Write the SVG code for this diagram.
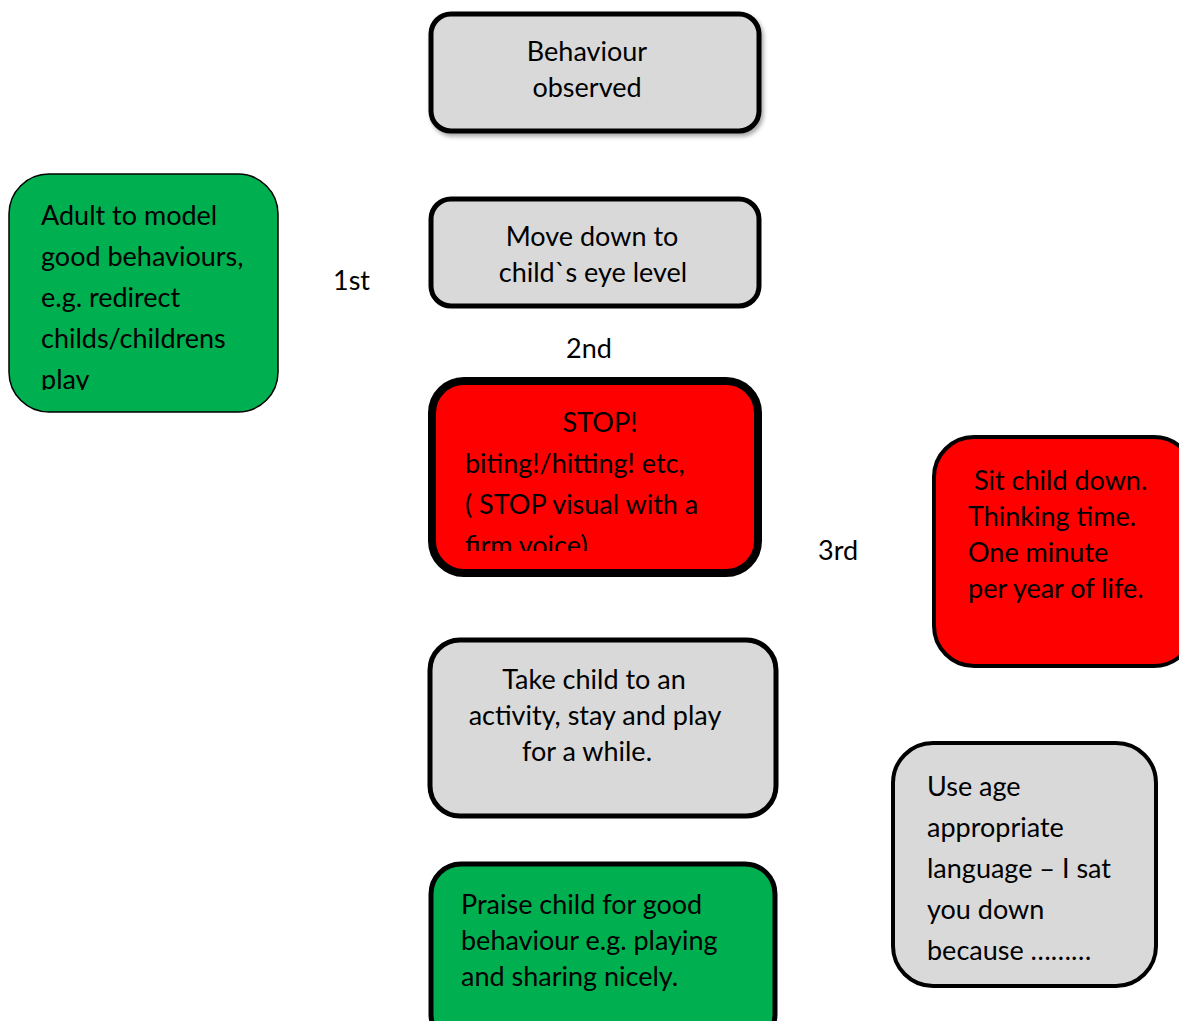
<svg xmlns="http://www.w3.org/2000/svg" width="1179" height="1021" viewBox="0 0 1179 1021">
<defs>
<style>
text{font-family:Lato,"Liberation Sans",sans-serif;font-size:27px;fill:#000}
.c{text-anchor:middle}
.grey{fill:#d9d9d9;stroke:#000}
.green{fill:#00b050;stroke:#000}
.red{fill:#ff0000;stroke:#000}
</style>
<filter id="sh" x="-10%" y="-10%" width="130%" height="130%">
<feDropShadow dx="2" dy="3" stdDeviation="2" flood-color="#000" flood-opacity="0.35"/>
</filter>
<clipPath id="clipGreen"><rect x="0" y="170" width="300" height="220"/></clipPath>
<clipPath id="clipRed"><rect x="430" y="380" width="330" height="171"/></clipPath>
</defs>
<rect width="1179" height="1021" fill="#fff"/>
<g id="connectors"></g>
<g id="n-observed">
<rect class="grey" x="431" y="14" width="328" height="117" rx="20" stroke-width="5" filter="url(#sh)"/>
<text class="c" x="587" y="61">Behaviour</text>
<text class="c" x="587" y="97">observed</text>
</g>
<g id="n-move">
<rect class="grey" x="431" y="199" width="328" height="107" rx="20" stroke-width="5"/>
<text class="c" x="592" y="246">Move down to</text>
<text class="c" x="593" y="282">child`s eye level</text>
</g>
<g id="n-adult">
<rect class="green" x="9" y="174" width="269" height="238" rx="40" stroke-width="1.5"/>
<g clip-path="url(#clipGreen)">
<text x="41" y="225">Adult to model</text>
<text x="41" y="266">good behaviours,</text>
<text x="41" y="307">e.g. redirect</text>
<text x="41" y="348">childs/childrens</text>
<text x="41" y="389">play</text>
</g>
</g>
<text id="l-1st" x="333" y="290">1st</text>
<text id="l-2nd" x="566" y="358">2nd</text>
<g id="n-stop">
<rect class="red" x="432" y="381" width="326" height="192" rx="32" stroke-width="8"/>
<g clip-path="url(#clipRed)">
<text class="c" x="600" y="432">STOP!</text>
<text x="465" y="473">biting!/hitting! etc,</text>
<text x="465" y="514">( STOP visual with a</text>
<text x="465" y="555">firm voice)</text>
</g>
</g>
<text id="l-3rd" x="818" y="560">3rd</text>
<g id="n-sit">
<rect class="red" x="934" y="437" width="260" height="229" rx="40" stroke-width="4"/>
<text x="974" y="490">Sit child down.</text>
<text x="968" y="526">Thinking time.</text>
<text x="968" y="562">One minute</text>
<text x="968" y="598">per year of life.</text>
</g>
<g id="n-take">
<rect class="grey" x="430" y="640" width="346" height="176" rx="30" stroke-width="5"/>
<text class="c" x="594" y="689">Take child to an</text>
<text class="c" x="595" y="725">activity, stay and play</text>
<text class="c" x="587" y="761">for a while.</text>
</g>
<g id="n-use">
<rect class="grey" x="893" y="743" width="263" height="243" rx="40" stroke-width="4"/>
<text x="927" y="796">Use age</text>
<text x="927" y="837">appropriate</text>
<text x="927" y="878">language – I sat</text>
<text x="927" y="919">you down</text>
<text x="927" y="960">because ………</text>
</g>
<g id="n-praise">
<rect class="green" x="431" y="864" width="344" height="180" rx="30" stroke-width="5"/>
<text x="461" y="914">Praise child for good</text>
<text x="461" y="950">behaviour e.g. playing</text>
<text x="461" y="986">and sharing nicely.</text>
</g>
</svg>
